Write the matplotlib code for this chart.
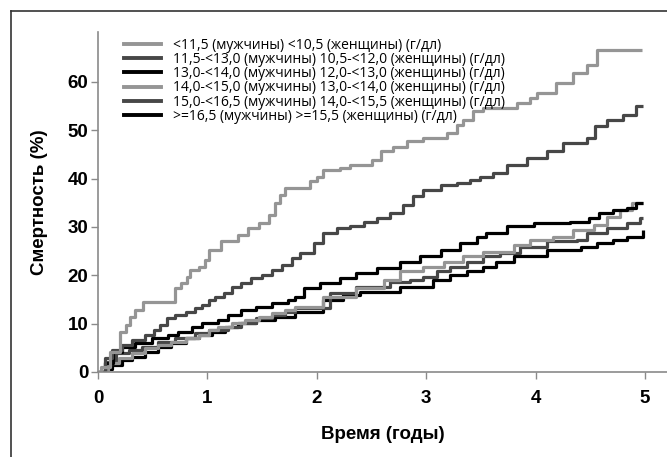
import matplotlib
matplotlib.use("Agg")
from matplotlib import pyplot as plt
from matplotlib.lines import Line2D

# --- data (years, %)
t1 = [0, 0.03, 0.11, 0.2, 0.26, 0.29, 0.34, 0.41, 0.64, 0.70, 0.76, 0.81, 0.84, 0.92, 0.98, 1.01, 1.12,
      1.28, 1.37, 1.47, 1.56, 1.62, 1.66, 1.71, 1.94, 2.0, 2.06, 2.21, 2.30, 2.50, 2.59, 2.70, 2.82, 2.97,
      3.19, 3.28, 3.34, 3.43, 3.52, 3.83, 3.95, 4.01, 4.19, 4.34, 4.47, 4.56, 4.97]
y1 = [0, 1.1, 4.2, 8.3, 9.7, 11.4, 12.8, 14.5, 14.5, 17.3, 18.4, 19.7, 21.1, 21.8, 23.2, 25.2, 27.0,
      28.3, 29.7, 30.8, 32.5, 34.9, 36.6, 38.0, 39.4, 40.4, 41.8, 42.1, 42.8, 43.9, 45.6, 46.6, 47.7, 48.3,
      49.4, 51.1, 52.1, 53.9, 54.6, 55.6, 56.6, 57.7, 59.7, 61.8, 63.5, 66.6, 66.6]

t2 = [0, 0.06, 0.13, 0.22, 0.31, 0.43, 0.51, 0.57, 0.63, 0.70, 0.80, 0.89, 0.95, 1.01, 1.07, 1.15, 1.22,
      1.31, 1.40, 1.50, 1.59, 1.68, 1.77, 1.85, 1.97, 2.06, 2.18, 2.30, 2.43, 2.55, 2.67, 2.79, 2.88, 2.97,
      3.13, 3.28, 3.40, 3.49, 3.61, 3.74, 3.92, 4.10, 4.25, 4.47, 4.54, 4.65, 4.80, 4.92, 4.98]
y2 = [0, 2.8, 4.6, 5.6, 6.6, 7.7, 8.7, 9.7, 11.1, 11.8, 12.5, 13.2, 13.9, 14.9, 15.6, 16.3, 17.6,
      18.4, 19.4, 20.1, 21.1, 22.1, 23.5, 24.6, 26.6, 28.7, 29.7, 30.1, 31.1, 31.8, 32.8, 34.6, 36.3, 37.7,
      38.7, 39.0, 39.7, 40.4, 41.1, 42.8, 44.2, 45.6, 47.3, 48.3, 50.8, 52.1, 53.2, 54.9, 54.9]

t3 = [0, 0.06, 0.14, 0.22, 0.34, 0.49, 0.64, 0.73, 0.86, 0.95, 1.10, 1.19, 1.31, 1.44, 1.59, 1.74, 1.80,
      1.88, 2.03, 2.21, 2.36, 2.55, 2.76, 2.94, 3.13, 3.31, 3.46, 3.55, 3.74, 3.98, 4.31, 4.49, 4.58, 4.71,
      4.83, 4.92, 4.98]
y3 = [0, 1.8, 4.2, 5.2, 5.9, 7.0, 7.7, 8.3, 9.4, 10.1, 10.8, 11.8, 12.8, 13.5, 14.2, 14.9, 15.6,
      17.3, 18.4, 19.4, 20.4, 21.5, 22.8, 23.9, 25.2, 26.6, 28.0, 28.7, 30.1, 30.8, 31.1, 31.8, 32.8, 33.5,
      33.9, 34.9, 34.9]

t4 = [0, 0.09, 0.19, 0.31, 0.43, 0.55, 0.67, 0.80, 0.92, 1.01, 1.10, 1.22, 1.34, 1.47, 1.59, 1.71, 1.80,
      2.06, 2.36, 2.61, 2.76, 2.97, 3.16, 3.34, 3.52, 3.80, 3.95, 4.16, 4.34, 4.53, 4.65, 4.77, 4.88, 4.98]
y4 = [0, 1.8, 2.8, 3.9, 4.9, 5.6, 6.3, 7.0, 7.7, 8.7, 9.4, 10.1, 10.8, 11.4, 12.1, 12.8, 13.5,
      15.6, 17.3, 19.0, 20.8, 21.8, 22.8, 23.9, 24.9, 26.3, 27.3, 28.0, 29.4, 30.4, 32.1, 33.5, 34.9, 34.9]

t5 = [0, 0.06, 0.16, 0.28, 0.40, 0.55, 0.70, 0.89, 1.01, 1.19, 1.31, 1.44, 1.59, 1.71, 1.80, 2.12, 2.36,
      2.67, 2.85, 2.97, 3.10, 3.22, 3.37, 3.52, 3.67, 3.86, 4.10, 4.38, 4.47, 4.65, 4.83, 4.95, 4.98]
y5 = [0, 2.1, 3.9, 4.6, 5.2, 6.3, 7.0, 8.0, 8.7, 9.4, 10.1, 11.1, 11.8, 12.5, 13.2, 16.3, 17.6,
      18.7, 19.0, 19.7, 20.8, 21.8, 22.8, 23.9, 24.6, 25.9, 27.0, 27.3, 28.7, 29.7, 30.8, 31.8, 31.8]

t6 = [0, 0.07, 0.13, 0.22, 0.31, 0.43, 0.55, 0.67, 0.80, 0.92, 1.04, 1.16, 1.28, 1.44, 1.62, 1.80, 2.06,
      2.24, 2.39, 2.76, 3.06, 3.22, 3.37, 3.52, 3.64, 3.80, 4.10, 4.41, 4.56, 4.71, 4.83, 4.98]
y6 = [0, 0.7, 1.4, 2.5, 3.2, 4.2, 5.2, 5.9, 7.0, 7.7, 8.3, 9.4, 10.1, 10.8, 11.4, 12.5, 14.9,
      15.9, 16.6, 17.6, 19.0, 20.1, 20.8, 21.8, 22.8, 23.9, 25.2, 25.9, 26.6, 27.3, 28.0, 29.4]

labels = [
    "<11,5 (мужчины) <10,5 (женщины) (г/дл)",
    "11,5-<13,0 (мужчины) 10,5-<12,0 (женщины) (г/дл)",
    "13,0-<14,0 (мужчины) 12,0-<13,0 (женщины) (г/дл)",
    "14,0-<15,0 (мужчины) 13,0-<14,0 (женщины) (г/дл)",
    "15,0-<16,5 (мужчины) 14,0-<15,5 (женщины) (г/дл)",
    ">=16,5 (мужчины) >=15,5 (женщины) (г/дл)",
]
light = "#959595"
dark = "#474747"
colors = [light, dark, "black", light, dark, "black"]
series = [(t1, y1), (t2, y2), (t3, y3), (t4, y4), (t5, y5), (t6, y6)]

fig = plt.figure(figsize=(6.67, 4.57), dpi=100)
ax = fig.add_axes([0.147, 0.186, 0.853, 0.744])

# draw lower groups first so the top ones sit on top
for i in [5, 4, 3, 2, 1, 0]:
    t, y = series[i]
    ax.step(t, y, where="post", color=colors[i], lw=2.3, solid_capstyle="butt")

ax.set_xlim(0, 5.2)
ax.set_ylim(0, 70.3)
ax.set_xticks([0, 1, 2, 3, 4, 5])
ax.set_yticks([0, 10, 20, 30, 40, 50, 60])
for s in ["top", "right"]:
    ax.spines[s].set_visible(False)
for s in ["left", "bottom"]:
    ax.spines[s].set_color("#8a8a8a")
    ax.spines[s].set_linewidth(1.2)
ax.tick_params(colors="#8a8a8a", length=5, width=1)
ax.tick_params(axis="x", pad=8)
ax.tick_params(axis="y", pad=2)
for lab in ax.get_xticklabels() + ax.get_yticklabels():
    lab.set_fontfamily("Liberation Sans")
    lab.set_fontweight("bold")
    lab.set_fontsize(13.5)
    lab.set_color("black")

ax.set_xlabel("Время (годы)", fontfamily="Liberation Sans", fontweight="bold", fontsize=13.5, labelpad=14)
ax.set_ylabel("Смертность (%)", fontfamily="Liberation Sans", fontweight="bold", fontsize=13.5, labelpad=14)

handles = [Line2D([], [], color=c, lw=2.8) for c in colors]
ax.legend(handles, labels, loc="upper left", bbox_to_anchor=(0.035, 1.0), frameon=False,
          prop={"family": "Open Sans", "size": 10}, handlelength=2.7, handletextpad=0.85,
          labelspacing=-0.05, borderaxespad=0)

# frame lines (top and left) around the picture
fig.add_artist(Line2D([11 / 667, 11 / 667], [0, 1 - 11 / 457], color="#333333", lw=1.2))
fig.add_artist(Line2D([11 / 667, 1], [1 - 11 / 457, 1 - 11 / 457], color="#333333", lw=1.2))

fig.savefig("out.png", dpi=100)
